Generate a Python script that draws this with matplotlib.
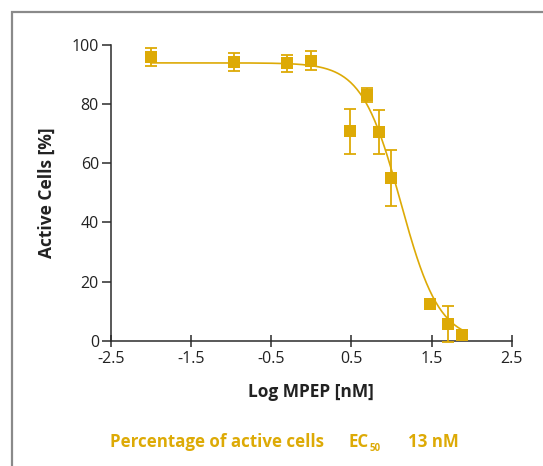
import numpy as np
import matplotlib
matplotlib.use("Agg")
import matplotlib.pyplot as plt
from matplotlib.patches import Rectangle

# Measured responses (log concentration in nM, mean %, error)
log_conc = [-2.0, -0.96, -0.30, 0.0, 0.48, 0.70, 0.845, 1.0, 1.48, 1.70, 1.875]
active_pct = [95.8, 94.2, 93.6, 94.6, 70.7, 83.0, 70.5, 55.0, 12.6, 5.8, 2.0]
err_pct = [3.0, 3.0, 3.0, 3.2, 7.5, 2.3, 7.5, 9.4, 0.0, 6.0, 0.0]

# Four-parameter logistic fit parameters
ec50_nM = 13.0
fit_top = 93.8
fit_bottom = 0.0
hill = 1.8

x_ticks = [-2.5, -1.5, -0.5, 0.5, 1.5, 2.5]
y_ticks = [0, 20, 40, 60, 80, 100]

gold = "#DDAA06"
axis_col = "#2b2b2b"

plt.rcParams["font.family"] = ["Open Sans", "DejaVu Sans"]

fig = plt.figure(figsize=(5.43, 4.66), dpi=100)
ax = fig.add_axes([0.2039, 0.2682, 0.9425 - 0.2039, 0.9045 - 0.2682])

xs = np.linspace(-2.0, 1.92, 300)
fit = fit_bottom + (fit_top - fit_bottom) / (1 + 10 ** ((xs - np.log10(ec50_nM)) * hill))
ax.plot(xs, fit, color=gold, lw=1.2, zorder=2, clip_on=False)

ax.errorbar(log_conc, active_pct, yerr=err_pct, fmt="none", ecolor=gold,
            elinewidth=1.3, capsize=4.5, capthick=1.3, zorder=3, clip_on=False)
ax.plot(log_conc, active_pct, "s", color=gold, ms=8.5, mew=0, zorder=4, clip_on=False)

ax.set_xlim(-2.5, 2.5)
ax.set_ylim(0, 100)
ax.set_xticks(x_ticks)
ax.set_xticklabels([f"{t:g}" for t in x_ticks])
ax.set_yticks(y_ticks)

for s in ["top", "right"]:
    ax.spines[s].set_visible(False)
for s in ["left", "bottom"]:
    ax.spines[s].set_color(axis_col)
    ax.spines[s].set_linewidth(1.1)

ax.tick_params(axis="x", direction="inout", length=9, width=1.1, color=axis_col,
               labelsize=11.5, labelcolor="#222222", pad=3)
ax.tick_params(axis="y", direction="out", length=6.5, width=1.1, color=axis_col,
               labelsize=11.5, labelcolor="#222222", pad=2)

ax.set_xlabel("Log MPEP [nM]", fontsize=12.5, fontweight="bold", color="#222222", labelpad=11)
ax.set_ylabel("Active Cells [%]", fontsize=12.5, fontweight="bold", color="#222222", labelpad=11)

# Legend line below the plot
fig.text(110 / 543, 1 - 447 / 466, "Percentage of active cells", color=gold,
         fontsize=12.2, fontweight="bold", ha="left", va="baseline")
fig.text(348 / 543, 1 - 447 / 466, "EC", color=gold,
         fontsize=12.2, fontweight="bold", ha="left", va="baseline")
fig.text(370 / 543, 1 - 451 / 466, "50", color=gold,
         fontsize=7, fontweight="bold", ha="left", va="baseline")
fig.text(408 / 543, 1 - 447 / 466, f"{ec50_nM:g} nM", color=gold,
         fontsize=12.2, fontweight="bold", ha="left", va="baseline")

# Panel frame running off the right and bottom edges
fig.patches.append(Rectangle((11.5 / 543, -0.05), 1.2, 1.05 - 12.5 / 466,
                             transform=fig.transFigure, fill=False,
                             edgecolor="#8a8a8a", lw=1.6, zorder=0))

fig.savefig("out.png", dpi=100)
